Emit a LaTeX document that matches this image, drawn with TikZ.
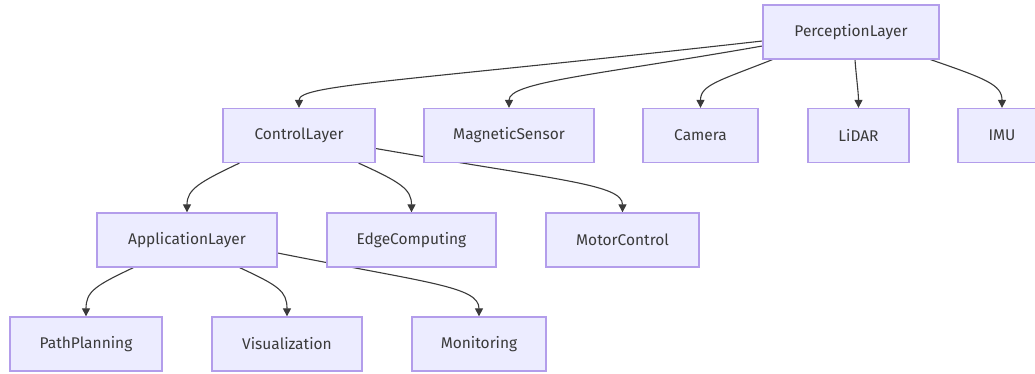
\documentclass[tikz,border=0pt]{standalone}
\usepackage{fontspec}
\setmainfont{Fira Sans}
\usepackage{tikz}
\usetikzlibrary{arrows.meta,backgrounds}

\definecolor{boxfill}{HTML}{ECECFF}
\definecolor{boxline}{HTML}{B39DEB}
\definecolor{inkgrey}{HTML}{3A3A3A}

\tikzset{
	layer/.style={draw=boxline, fill=boxfill, line width=1.3pt, minimum height=54,
		text=inkgrey, font=\fontsize{15.5}{17}\selectfont, inner sep=0pt},
	link/.style={draw=inkgrey, line width=1.1pt, -{Triangle[length=8pt,width=8pt]}}
}

\begin{document}
\begin{tikzpicture}[x=1pt, y=-1pt]
			%%%%% START %%%%%
			
			\clip (0, 0) rectangle (1035, 374);
			
			% top row
			\node[layer, minimum width=176] (pl) at (851, 32) {PerceptionLayer};
			
			% second row
			\node[layer, minimum width=152] (cl) at (299, 135.5) {ControlLayer};
			\node[layer, minimum width=170] (ms) at (509, 135.5) {MagneticSensor};
			\node[layer, minimum width=115] (cam) at (700.5, 135.5) {Camera};
			\node[layer, minimum width=101] (lid) at (858.5, 135.5) {LiDAR};
			\node[layer, minimum width=88] (imu) at (1002, 135.5) {IMU};
			
			% third row
			\node[layer, minimum width=180] (al) at (187, 240) {ApplicationLayer};
			\node[layer, minimum width=169] (ec) at (411.5, 240) {EdgeComputing};
			\node[layer, minimum width=153] (mc) at (622.5, 240) {MotorControl};
			
			% bottom row
			\node[layer, minimum width=152] (pp) at (86, 344) {PathPlanning};
			\node[layer, minimum width=150] (vis) at (287, 344) {Visualization};
			\node[layer, minimum width=134] (mon) at (479, 344) {Monitoring};
			
			% links run underneath the boxes
			\begin{pgfonlayer}{background}
			
			% perception layer fans out
			\draw[link] ([yshift=-9]pl.west) .. controls +(-365, 41) and +(0, -23) .. (cl.north);
			\draw[link] ([yshift=-14]pl.west) .. controls +(-165, 29) and +(0, -26) .. (ms.north);
			\draw[link] ([xshift=10]pl.south west) .. controls +(-53, 21) and +(0, -23) .. (cam.north);
			\draw[link] ([xshift=4]pl.south) .. controls +(1, 15) and +(0, -15) .. (lid.north);
			\draw[link] ([xshift=-9]pl.south east) .. controls +(55, 19) and +(0, -23) .. (imu.north);
			
			% control layer
			\draw[link] ([xshift=17]cl.south west) .. controls +(-40, 19) and +(0, -23) .. (al.north);
			\draw[link] ([xshift=-17]cl.south east) .. controls +(42, 19) and +(0, -23) .. (ec.north);
			\draw[link] ([yshift=-13]cl.east) .. controls +(185, 32) and +(0, -28) .. (mc.north);
			
			% application layer
			\draw[link] ([xshift=37]al.south west) .. controls +(-38, 18) and +(0, -25) .. (pp.north);
			\draw[link] ([xshift=-38]al.south east) .. controls +(39, 18) and +(0, -25) .. (vis.north);
			\draw[link] ([yshift=-13]al.east) .. controls +(150, 30) and +(0, -30) .. (mon.north);
			
			\end{pgfonlayer}
			
			%%%%% END %%%%%
\end{tikzpicture}
\end{document}
